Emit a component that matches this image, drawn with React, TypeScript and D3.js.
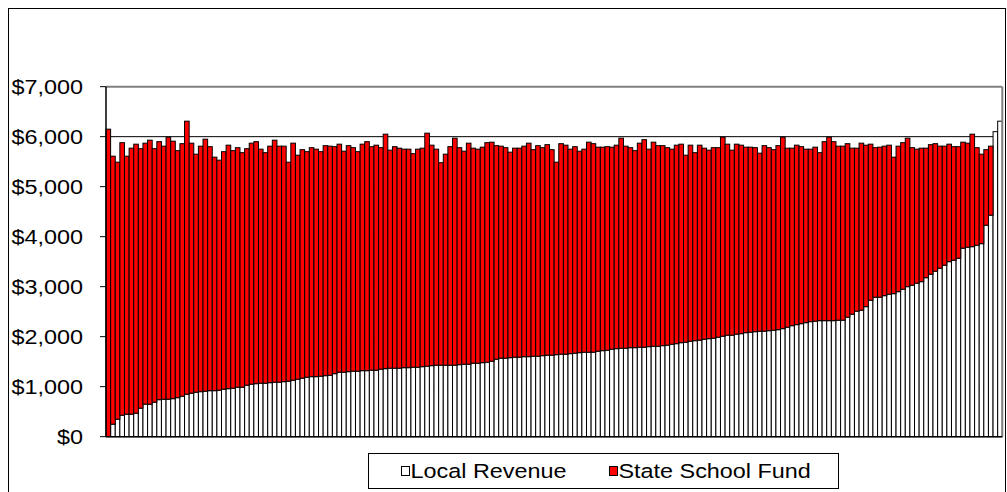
import React from 'react';
import * as d3 from 'd3';

// local revenue per student, one value per district (sorted ascending)
const localRevenue = [
  0, 250, 350, 430, 450, 450, 470, 570, 650, 650, 690, 740, 750, 750, 760, 780, 810, 850, 870, 890,
  900, 910, 920, 920, 930, 950, 960, 970, 990, 990, 1030, 1050, 1060, 1070, 1070, 1080, 1090, 1090, 1100, 1110,
  1130, 1150, 1170, 1190, 1200, 1200, 1210, 1220, 1230, 1260, 1290, 1290, 1300, 1310, 1310, 1320, 1320, 1330, 1330, 1350,
  1360, 1370, 1370, 1370, 1380, 1380, 1390, 1390, 1400, 1410, 1420, 1430, 1430, 1430, 1430, 1430, 1440, 1450, 1450, 1470,
  1470, 1480, 1490, 1510, 1550, 1570, 1570, 1580, 1590, 1590, 1600, 1600, 1610, 1610, 1620, 1630, 1630, 1640, 1650, 1650,
  1660, 1670, 1680, 1690, 1690, 1690, 1710, 1720, 1730, 1750, 1760, 1770, 1770, 1780, 1780, 1790, 1790, 1800, 1810, 1810,
  1820, 1830, 1850, 1860, 1880, 1890, 1910, 1920, 1930, 1950, 1960, 1970, 1990, 2010, 2030, 2030, 2050, 2060, 2080, 2090,
  2100, 2110, 2110, 2120, 2130, 2140, 2160, 2190, 2220, 2240, 2260, 2280, 2300, 2310, 2320, 2320, 2320, 2320, 2330, 2330,
  2390, 2450, 2510, 2530, 2600, 2730, 2790, 2790, 2820, 2850, 2860, 2900, 2950, 3000, 3030, 3070, 3100, 3180, 3250, 3310,
  3370, 3430, 3500, 3530, 3570, 3770, 3790, 3800, 3830, 3860, 4230, 4430, 6100, 6310,
];

// state school fund per student, same districts
const stateSchoolFund = [
  6150, 5360, 5140, 5450, 5160, 5320, 5380, 5190, 5220, 5280, 5070, 5160, 5060, 5240, 5150, 4940, 5050, 5460, 5000, 4760,
  4910, 5040, 4880, 4670, 4600, 4750, 4870, 4750, 4790, 4690, 4730, 4820, 4840, 4680, 4610, 4730, 4840, 4720, 4710, 4380,
  4740, 4480, 4570, 4510, 4580, 4550, 4490, 4600, 4580, 4540, 4560, 4420, 4520, 4470, 4390, 4530, 4580, 4470, 4500, 4430,
  4690, 4360, 4430, 4400, 4370, 4370, 4270, 4360, 4370, 4660, 4410, 4320, 4050, 4220, 4370, 4540, 4340, 4260, 4420, 4300,
  4280, 4310, 4390, 4380, 4270, 4240, 4210, 4110, 4180, 4180, 4210, 4270, 4130, 4210, 4160, 4210, 4110, 3850, 4210, 4180,
  4090, 4130, 4030, 4060, 4200, 4170, 4080, 4070, 4070, 4040, 4070, 4200, 4040, 4000, 3940, 4080, 4150, 3950, 4080, 4010,
  4000, 3950, 3900, 3970, 3970, 3740, 3920, 3760, 3900, 3820, 3770, 3810, 3790, 3980, 3820, 3700, 3800, 3770, 3710, 3700,
  3680, 3560, 3710, 3660, 3610, 3680, 3830, 3580, 3550, 3590, 3540, 3470, 3450, 3480, 3360, 3580, 3670, 3580, 3480, 3480,
  3470, 3320, 3260, 3340, 3230, 3120, 2990, 3000, 2990, 2980, 2730, 2910, 2930, 2970, 2750, 2680, 2670, 2590, 2590, 2550,
  2440, 2380, 2350, 2270, 2230, 2120, 2080, 2250, 1950, 1790, 1510, 1380, 0, 0,
];

const yTicks = [0, 1000, 2000, 3000, 4000, 5000, 6000, 7000];
const seriesNames = ['Local Revenue', 'State School Fund'];
const seriesColors = ['#FFFFFF', '#FF0000'];

export default function App() {
  const width = 1007;
  const height = 492;
  const plot = { left: 106, top: 86.67, right: 1002.3, bottom: 436.67 };

  const districts = localRevenue.map((_, i) => i);
  const data = districts.map(i => ({ i, local: localRevenue[i], state: stateSchoolFund[i] }));

  const stack = d3.stack().keys(['local', 'state']);
  const series = stack(data);

  const xScale = d3.scaleBand()
    .domain(districts)
    .range([plot.left, plot.right])
    .paddingInner(0)
    .paddingOuter(0);

  const yScale = d3.scaleLinear()
    .domain([0, 7000])
    .range([plot.bottom, plot.top]);

  const fmt = d3.format('$,.0f');
  const textScale = 'scale(1.2,1)';

  return (
    <svg
      width={width}
      height={height}
      style={{ position: 'absolute', left: 0, top: 0, background: '#fff' }}
      fontFamily="'Liberation Sans', Arial, sans-serif"
    >
      {/* chart frame */}
      <rect x={8.5} y={8.5} width={997} height={495} fill="#fff" stroke="#000" strokeWidth={1} />

      {/* gridlines behind the bars */}
      {yTicks.filter(t => t > 0 && t < 7000).map(t => (
        <line key={t} x1={plot.left} x2={plot.right} y1={yScale(t)} y2={yScale(t)} stroke="#000" strokeWidth={1} />
      ))}

      {/* stacked bars */}
      {series.map((s, si) => (
        <g key={s.key}>
          {s.map((d, j) => (
            d[1] - d[0] > 0 ? (
              <rect
                key={j}
                x={xScale(j)}
                y={yScale(d[1])}
                width={xScale.bandwidth()}
                height={yScale(d[0]) - yScale(d[1])}
                fill={seriesColors[si]}
                stroke="#000"
                strokeWidth={1}
              />
            ) : null
          ))}
        </g>
      ))}

      {/* plot border */}
      <line x1={plot.left} x2={plot.right} y1={plot.top} y2={plot.top} stroke="#808080" strokeWidth={2} />
      <line x1={plot.right} x2={plot.right} y1={plot.top} y2={plot.bottom} stroke="#808080" strokeWidth={2} />

      {/* y axis */}
      <line x1={plot.left} x2={plot.left} y1={plot.top} y2={plot.bottom} stroke="#000" strokeWidth={1.5} />
      {yTicks.map(t => (
        <g key={t}>
          <line x1={plot.left - 6} x2={plot.left} y1={yScale(t)} y2={yScale(t)} stroke="#000" strokeWidth={1} />
          <g transform={`translate(83, ${yScale(t)}) ${textScale}`}>
            <text textAnchor="end" dy="0.36em" fontSize={19.5} fill="#000">{fmt(t)}</text>
          </g>
        </g>
      ))}

      {/* x axis */}
      <line x1={plot.left} x2={plot.right} y1={plot.bottom} y2={plot.bottom} stroke="#000" strokeWidth={1.5} />

      {/* legend */}
      <rect x={368.5} y={453.5} width={470} height={35} fill="#fff" stroke="#000" strokeWidth={1} />
      {seriesNames.map((name, i) => {
        const lx = i === 0 ? 401.5 : 609.5;
        return (
          <g key={name}>
            <rect x={lx} y={466.5} width={8} height={9} fill={seriesColors[i]} stroke="#000" strokeWidth={1} />
            <g transform={`translate(${lx + 9}, 471) ${textScale}`}>
              <text dy="0.36em" fontSize={19.5} fill="#000">{name}</text>
            </g>
          </g>
        );
      })}
    </svg>
  );
}
